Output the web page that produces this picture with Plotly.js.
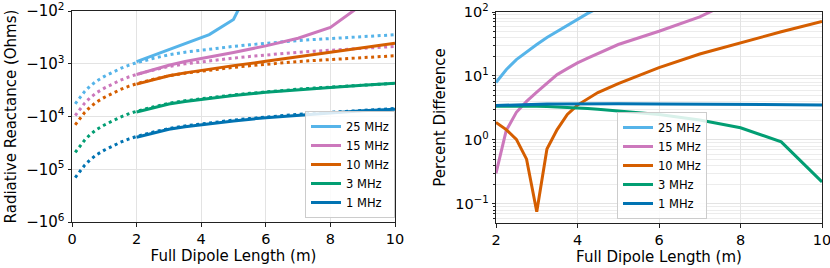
<!DOCTYPE html>
<html>
<head>
<meta charset="utf-8">
<script src="https://cdn.plot.ly/plotly-3.0.1.min.js"></script>
<style>html,body{margin:0;padding:0;background:#fff;}#chart{width:830px;height:268px;}</style>
</head>
<body>
<div id="chart"></div>
<script>
// ---------- Left panel: radiative reactance (Ohms) ----------
const freqLabels = ["25 MHz", "15 MHz", "10 MHz", "3 MHz", "1 MHz"];
const colors = ["#56B4E9", "#CC78BC", "#D55E00", "#029E73", "#0173B2"];

// Dotted curves (approximation), full dipole length in metres
const lenApprox = [0.1, 0.25, 0.4, 0.55, 0.75, 1, 1.25, 1.5, 1.75, 2, 2.5, 3, 3.5, 4, 4.5, 5, 5.5, 6, 6.5, 7, 7.5, 8, 8.5, 9, 9.5, 10];
const xApprox25 = [-5750, -4270, -3310, -2690, -2140, -1740, -1445, -1230, -1070, -955, -794, -676, -603, -550, -501, -468, -437, -407, -385, -363, -347, -331, -316, -302, -292, -282];
const xApprox15 = [-9580, -7120, -5520, -4480, -3570, -2900, -2410, -2050, -1785, -1590, -1325, -1125, -1005, -917, -835, -780, -728, -678, -642, -605, -578, -552, -527, -503, -487, -470];
const xApprox10 = [-14380, -10680, -8280, -6730, -5350, -4350, -3610, -3080, -2680, -2390, -1985, -1690, -1510, -1375, -1250, -1170, -1090, -1020, -963, -908, -868, -828, -790, -755, -730, -705];
const xApprox3 = [-47900, -35600, -27600, -22400, -17800, -14500, -12040, -10250, -8920, -7960, -6620, -5630, -5020, -4580, -4180, -3900, -3640, -3390, -3210, -3030, -2890, -2760, -2630, -2520, -2430, -2350];
const xApprox1 = [-143700, -106800, -82800, -67300, -53500, -43500, -36100, -30800, -26800, -23900, -19850, -16900, -15100, -13750, -12530, -11700, -10930, -10180, -9630, -9080, -8680, -8280, -7900, -7550, -7300, -7050];

// Solid curves (simulation)
const len25 = [2, 2.5, 3, 3.5, 4, 4.25, 5, 5.5];
const xSim25 = [-910, -700, -535, -420, -325, -280, -145, -35];
const len15 = [2, 2.5, 3, 3.5, 4, 4.5, 5, 6, 7, 8, 9];
const xSim15 = [-1595, -1290, -1070, -910, -800, -700, -610, -458, -328, -205, -74];
const lenSim = [2, 2.5, 3, 3.5, 4, 4.5, 5, 6, 7, 8, 9, 10];
const xSim10 = [-2435, -2005, -1690, -1490, -1330, -1180, -1085, -900, -740, -618, -503, -410];
const xSim3 = [-8230, -6845, -5815, -5180, -4725, -4305, -4010, -3475, -3095, -2805, -2545, -2355];
const xSim1 = [-24700, -20550, -17500, -15630, -14230, -12970, -12110, -10540, -9400, -8570, -7810, -7300];

// ---------- Right panel: percent difference ----------
const lenPct = [2, 2.25, 2.5, 2.75, 3, 3.25, 3.5, 3.75, 4, 4.25, 4.5, 5, 6, 7, 8, 9, 10];
const pct25 = [7.9, 12.5, 18, 24, 31, 40, 50, 62, 76, 95, 115, null, null, null, null, null, null];
const pct15 = [0.30, 1.4, 2.7, 4.0, 5.6, 7.8, 10.5, 13, 16, 19, 22.5, 31, 50, 84, 170, null, null];
const pct10 = [1.88, 1.45, 1.02, 0.50, 0.075, 0.72, 1.45, 2.5, 3.5, 4.4, 5.5, 7.6, 13.5, 22, 33, 49, 71];
const pct3 = [3.36, 3.38, 3.38, 3.37, 3.35, 3.32, 3.28, 3.23, 3.18, 3.10, 3.02, 2.85, 2.5, 2.05, 1.55, 0.93, 0.22];
const pct1 = [3.45, 3.5, 3.55, 3.59, 3.62, 3.64, 3.65, 3.66, 3.66, 3.66, 3.66, 3.66, 3.64, 3.62, 3.60, 3.56, 3.52];

const mag = arr => arr.map(v => (v === null ? null : -v));

const approxY = [xApprox25, xApprox15, xApprox10, xApprox3, xApprox1];
const simX = [len25, len15, lenSim, lenSim, lenSim];
const simY = [xSim25, xSim15, xSim10, xSim3, xSim1];
const pctY = [pct25, pct15, pct10, pct3, pct1];

const traces = [];
approxY.forEach((ys, i) => {
  traces.push({
    x: lenApprox, y: mag(ys), xaxis: 'x', yaxis: 'y', mode: 'lines',
    line: {color: colors[i], width: 3, dash: '3px,3.5px'},
    showlegend: false, hoverinfo: 'skip'
  });
});
simY.forEach((ys, i) => {
  traces.push({
    x: simX[i], y: mag(ys), xaxis: 'x', yaxis: 'y', mode: 'lines',
    name: freqLabels[i], legend: 'legend',
    line: {color: colors[i], width: 3}
  });
});
pctY.forEach((ys, i) => {
  traces.push({
    x: lenPct, y: ys, xaxis: 'x2', yaxis: 'y2', mode: 'lines',
    name: freqLabels[i], legend: 'legend2', connectgaps: false,
    line: {color: colors[i], width: 3}
  });
});

const FONT = 'DejaVu Sans, Verdana, sans-serif';
const gridC = '#e3e3e3';
const baseAxis = {
  showline: true, mirror: true, linecolor: '#222', linewidth: 1,
  ticks: 'outside', ticklen: 3.5, tickwidth: 1, tickcolor: '#222',
  showgrid: true, gridcolor: gridC, gridwidth: 1, zeroline: false,
  ticklabeloverflow: 'allow',
  tickfont: {family: FONT, size: 14.5, color: '#000'}
};

const leftYTicks = [1e2, 1e3, 1e4, 1e5, 1e6];
const leftYText = ['−10<sup>2</sup>', '−10<sup>3</sup>', '−10<sup>4</sup>', '−10<sup>5</sup>', '−10<sup>6</sup>'];
const rightYTicks = [0.1, 1, 10, 100];
const rightYText = ['10<sup>−1</sup>', '10<sup>0</sup>', '10<sup>1</sup>', '10<sup>2</sup>'];
const minorVals = [];
[0.01, 0.1, 1, 10].forEach(d => { for (let k = 2; k <= 9; k++) minorVals.push(+(k * d).toPrecision(3)); });

const titleFont = {family: FONT, size: 15, color: '#000'};
const layout = {
  width: 830, height: 268,
  margin: {l: 0, r: 0, t: 0, b: 0},
  paper_bgcolor: '#fff', plot_bgcolor: '#fff',
  font: {family: FONT, size: 14, color: '#000'},
  xaxis: Object.assign({}, baseAxis, {
    domain: [72 / 830, 395 / 830], range: [0, 10], anchor: 'y',
    tickvals: [0, 2, 4, 6, 8, 10],
    title: {text: 'Full Dipole Length (m)', font: titleFont, standoff: 3}
  }),
  yaxis: Object.assign({}, baseAxis, {
    domain: [1 - 222 / 268, 1 - 11 / 268], type: 'log', range: [6, 2], anchor: 'x',
    tickvals: leftYTicks, ticktext: leftYText,
    tickfont: {family: FONT, size: 15, color: '#000'},
    title: {text: 'Radiative Reactance (Ohms)', font: titleFont, standoff: 5}
  }),
  xaxis2: Object.assign({}, baseAxis, {
    domain: [496 / 830, 822 / 830], range: [2, 10], anchor: 'y2',
    tickvals: [2, 4, 6, 8, 10],
    title: {text: 'Full Dipole Length (m)', font: titleFont, standoff: 3}
  }),
  yaxis2: Object.assign({}, baseAxis, {
    domain: [1 - 223 / 268, 1 - 12 / 268], type: 'log', range: [-1.3, 2], anchor: 'x2',
    tickvals: rightYTicks, ticktext: rightYText,
    minor: {tickvals: minorVals, ticks: 'outside', ticklen: 2, tickcolor: '#222', showgrid: true, gridcolor: '#ececec', gridwidth: 1},
    title: {text: 'Percent Difference', font: titleFont, standoff: 5}
  }),
  legend: {
    x: 305 / 830, xanchor: 'left', y: 1 - 218 / 268, yanchor: 'bottom',
    bgcolor: 'rgba(255,255,255,0.85)', bordercolor: '#cccccc', borderwidth: 1,
    font: {family: FONT, size: 11.5, color: '#000'}, itemwidth: 30, tracegroupgap: 0
  },
  legend2: {
    x: 617 / 830, xanchor: 'left', y: 1 - 219 / 268, yanchor: 'bottom',
    bgcolor: 'rgba(255,255,255,0.85)', bordercolor: '#cccccc', borderwidth: 1,
    font: {family: FONT, size: 11.5, color: '#000'}, itemwidth: 30, tracegroupgap: 0
  }
};

Plotly.newPlot('chart', traces, layout, {staticPlot: true, displayModeBar: false});
</script>
</body>
</html>
